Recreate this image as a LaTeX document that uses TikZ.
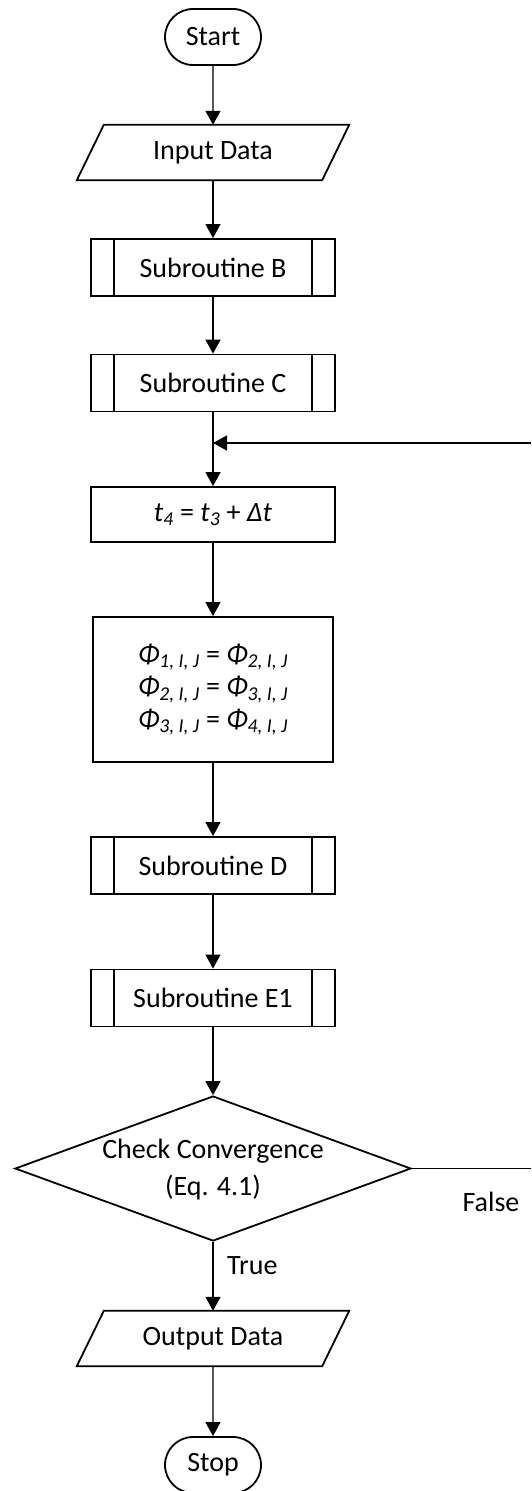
\documentclass[tikz,border=0pt]{standalone}
\usepackage{fontspec}
\setmainfont{Carlito}
\usetikzlibrary{arrows.meta,shapes.geometric,shapes.misc}
\newcommand\phiidx[1]{\textit{Φ}\textsubscript{\textit{#1}}}
\begin{document}
\begin{tikzpicture}[x=1pt,y=-1pt,
  base/.style={font=\fontsize{28}{37}\selectfont, inner sep=0pt, align=center},
  term/.style={base, draw, line width=1.8pt, rounded rectangle, minimum width=96pt, minimum height=56pt},
  io/.style={base, minimum width=245pt, minimum height=55pt},
  iooutline/.style={line width=1.8pt, line join=miter},
  sub/.style={base, draw, line width=1.8pt, minimum width=244pt, minimum height=57pt,
    path picture={\draw[line width=1.8pt]
      ([xshift=23pt]path picture bounding box.north west) -- ([xshift=23pt]path picture bounding box.south west)
      ([xshift=-23pt]path picture bounding box.north east) -- ([xshift=-23pt]path picture bounding box.south east);}},
  proc/.style={base, draw, line width=1.8pt, minimum width=244pt, minimum height=55pt},
  dec/.style={draw, diamond, line width=1.8pt, minimum width=396pt, minimum height=145pt, inner sep=0pt},
  flow/.style={line width=1.3pt, -{Triangle[length=14pt,width=15pt]}},
  plain/.style={line width=1.3pt}]
\useasboundingbox (0,0) rectangle (531,1491);
\clip (0,0) rectangle (531,1491);
\fill[white] (0,0) rectangle (531,1491);

\node[term] (start) at (213,37) {Start};
\node[io] (in) at (213,152.5) {Input Data};
\draw[iooutline] ([xshift=13.5pt]in.north west) -- ([xshift=13.5pt]in.north east) -- ([xshift=-13.5pt]in.south east) -- ([xshift=-13.5pt]in.south west) -- cycle;
\node[sub] (subB) at (213,267.5) {Subroutine B};
\node[sub] (subC) at (213,383) {Subroutine C};
\coordinate (join) at (213,443);
\coordinate (loopR) at (531,443);
\node[proc] (t4) at (213,514.5) {\textit{t}\textsubscript{\textit{4}} = \textit{t}\textsubscript{\textit{3}} + \textit{Δt}};
\node[proc, minimum width=240pt, minimum height=145pt, font=\fontsize{28}{32.5}\selectfont] (phi) at (213,689.5)
  {\phiidx{1, I, J} = \phiidx{2, I, J}\\ \phiidx{2, I, J} = \phiidx{3, I, J}\\ \phiidx{3, I, J} = \phiidx{4, I, J}};
\node[sub] (subD) at (213,865.5) {Subroutine D};
\node[sub] (subE) at (213,998) {Subroutine E1};
\node[dec] (chk) at (213,1168.5) {};
\node[base] (chktext) at (213,1170) {Check Convergence\\(Eq. 4.1)};
\coordinate (falseR) at (531,1168.5);
\node[base] (falselbl) at (491,1202) {False};
\node[base, anchor=west] (truelbl) at (227,1266) {True};
\node[io] (out) at (213,1338.5) {Output Data};
\draw[iooutline] ([xshift=13.5pt]out.north west) -- ([xshift=13.5pt]out.north east) -- ([xshift=-13.5pt]out.south east) -- ([xshift=-13.5pt]out.south west) -- cycle;
\node[term] (stop) at (213,1465) {Stop};

\draw[flow] (start) -- (in.north);
\draw[flow] (in.south) -- (subB);
\draw[flow] (subB) -- (subC);
\draw[flow] (subC) -- (t4);
\draw[flow] (loopR) -- (join);
\draw[flow] (t4) -- (phi);
\draw[flow] (phi) -- (subD);
\draw[flow] (subD) -- (subE);
\draw[flow] (subE) -- (chk.north);
\draw[plain] (chk.east) -- (falseR);
\draw[flow] (chk.south) -- (out.north);
\draw[flow] (out.south) -- (stop);
\end{tikzpicture}
\end{document}
